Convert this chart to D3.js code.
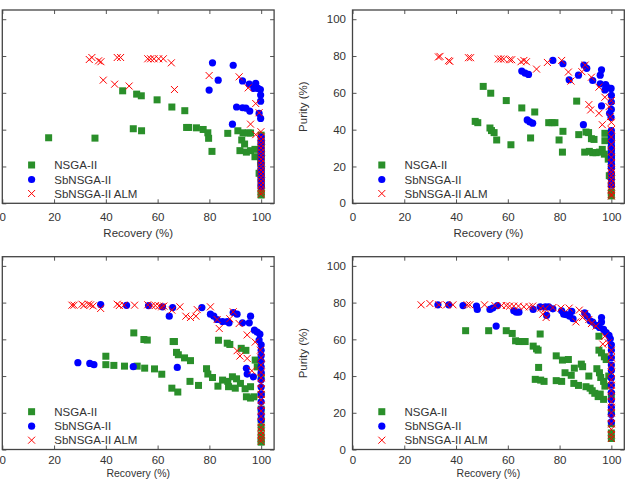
<!DOCTYPE html>
<html><head><meta charset="utf-8">
<script src="https://cdn.jsdelivr.net/npm/d3@7"></script>
<style>
html,body{margin:0;padding:0;background:#fff;}
svg{display:block;font-family:"Liberation Sans",Arial,sans-serif;}
</style></head>
<body>
<svg id="chart" width="631" height="479"></svg>
<script>
const xTicks = [0, 20, 40, 60, 80, 100];
const yTicks = [0, 20, 40, 60, 80, 100];
const seriesNames = ["NSGA-II", "SbNSGA-II", "SbNSGA-II ALM"];
const xTitle = "Recovery (%)";
const yTitle = "Purity (%)";

const p1Nsga = [[17.9,35.6],[35.8,35.4],[46.5,61.1],[51.9,59.3],[53.7,58.4],[59.8,56.2],[65.5,52.3],[70.5,50.3],[50.6,40.5],[53.8,39.4],[71.2,41.2],[72,41.2],[75,41],[77.6,40.1],[79.4,38.3],[79.7,35.3],[81,28.2],[87.1,38],[91,39.4],[93,38.3],[95,38.2],[95.9,38.2],[92.5,34.4],[93.6,32.2],[91.8,28.6],[94.3,27.8],[95.9,28.6],[97.6,29.3],[97.6,25.3],[99.2,16.3],[99.8,22],[100,37],[100,33],[100,30],[100,27],[100,24],[100,20],[100,17],[100,14],[100,11],[100,8],[100,5.4],[100,4.5]];
const p1Sb = [[81.2,76.3],[89.2,75],[83.4,66.9],[79.9,61.5],[92.8,66.5],[95.4,64.7],[97.9,65.1],[97.2,62.4],[98.8,62.4],[99.7,61.8],[99.8,58.8],[99.8,55.5],[90.5,52.3],[92.8,51.9],[94.1,51.7],[95.6,50.1],[99.2,48.8],[99.8,46.1],[88.9,43],[100,36],[100,34],[100,32.5],[100,30],[100,28],[100,26],[100,24],[100,21.5],[100,19],[100,17],[100,15],[100,13],[100,11],[100,9]];
const p1Alm = [[33.6,78.1],[34.6,79.2],[37.2,77.4],[38.1,76.9],[44.4,79.2],[45.7,79.2],[56.2,78.5],[57.3,78.5],[58.6,78.5],[60.4,78.5],[62.2,78.5],[65.3,76.3],[39,66.9],[43.4,64.7],[49,63.7],[66.5,61.8],[79.9,69.4],[91.5,68.7],[95,62.7],[97.9,54.2],[99.2,49.2],[95.9,43],[97.9,37.3],[99.9,38.9],[100,36],[100,34],[100,32],[100,30],[100,28],[100,26],[100,24],[100,22],[100,20],[100,18],[100,16],[100,14],[100,12],[100,10],[100,8],[100,6.5],[100,5]];

const p2Nsga = [[50.5,63.5],[53.4,59.8],[59.4,55.8],[65.4,51.8],[70.4,49.6],[47.4,44.5],[48.4,43.8],[53.1,40.9],[53.7,39.5],[54.7,38.4],[55.7,34.4],[61.2,31.8],[68.8,35.5],[75.8,43.8],[77.1,43.8],[78.2,43.8],[79.8,34.4],[81.3,39.1],[81.1,27.8],[86.6,55.5],[87.4,37.3],[89.7,27.8],[91.5,28.2],[92.8,27.5],[94.1,27.5],[95.4,27.8],[96.5,29.3],[97.3,26.7],[90.2,38.7],[91.2,38.4],[92.3,35.1],[93.3,34.7],[97.5,38],[97.5,34],[98.8,24],[99.2,15],[100,36],[100,30],[100,25],[100,20],[100,15],[100,10],[100,6],[100,4]];
const p2Sb = [[65.4,71.8],[66.7,70.7],[68,70],[77.4,77.6],[81.3,75.8],[89.4,75.1],[90.5,73.3],[83.7,67.1],[87.3,69.6],[92.8,66.7],[96.2,72.5],[95.7,69.6],[95.7,64.9],[97.8,64.5],[98.8,62.7],[99.9,62.4],[100,58.7],[97.5,61.6],[96.2,52.9],[67.5,45.3],[68.5,44.2],[69.6,43.5],[89.2,42.7],[99.3,48.9],[99.9,46.7],[100,55],[100,51],[100,39.5],[100,37],[100,35],[100,33],[100,31],[100,29],[100,27],[100,25],[100,23],[100,21],[100,19],[100,16],[100,13],[100,10]];
const p2Alm = [[33.2,79.5],[33.8,79.8],[37.1,77.5],[37.6,77.1],[44.8,79.1],[45.6,79.1],[56.3,78.4],[57.3,78.4],[58.4,78.4],[60.7,78],[61.5,78],[65.1,76.9],[66.2,77.6],[67.2,76.9],[71.1,72.9],[75.3,76.5],[80.8,77.6],[83.4,71.3],[84.4,66.4],[88.6,71.5],[89.9,75.1],[92.3,68.5],[95.2,63.1],[97.5,57.6],[100,55.8],[91.3,53.6],[92,50.7],[95.2,48.9],[96.5,42.7],[99.1,52.5],[99.6,47],[100,44],[100,40],[100,36],[100,32],[100,28],[100,25],[100,22],[100,19],[100,17],[100,15],[100,13],[100,11],[100,9],[100,7],[100,5],[100,4]];

const p3Nsga = [[50.8,63.5],[54.7,59.9],[56,59.6],[66,58.8],[66.5,58.8],[67.3,52.9],[68,51.6],[70.4,49.9],[72.7,48.4],[83.5,59.5],[86.9,57.9],[87.9,57.2],[92.3,55.1],[94.1,54],[97.7,48.7],[40,50.8],[40,46.2],[43.1,45.8],[47.2,45.4],[52.1,45.4],[55,44.3],[58.8,43.9],[61.6,41],[65.5,33.4],[67.8,31.3],[72.5,37.1],[75.8,34.9],[78.9,44],[79.4,41.1],[81.2,39.2],[85.1,37.8],[87.1,37.1],[88.9,39.6],[90.5,38.5],[83.3,34.5],[87.4,34.2],[90,33.4],[92,36],[93.8,33.1],[95.9,34.2],[94.3,28.7],[95.9,28],[97.2,28.7],[98.5,45],[100,40],[100,30],[100,22],[100,16],[100,12],[100,8],[100,5],[100,4]];
const p3Sb = [[38,78.9],[48,78.5],[56.5,78.4],[61.9,77.7],[65.8,77.3],[64.5,72.6],[77.1,77.3],[80.4,73.7],[81.7,72.6],[83,70.8],[85.1,69.7],[86.9,69.7],[87.6,69],[89.2,74.6],[90.7,73.7],[92.8,69],[95.4,69],[95.9,72.6],[97.4,65],[98.5,63.9],[99.5,62.8],[99.2,59.6],[29.2,47.3],[33.8,46.9],[35.4,46.2],[50.6,45.1],[67.6,44.7],[94.3,44.2],[94.6,41.1],[97,39.6],[100,57],[100,54],[100,51],[100,48],[100,45],[100,42],[100,38],[100,34],[100,30],[100,26],[100,22],[100,19],[100,16]];
const p3Alm = [[26.9,78.6],[27.7,78.6],[30.8,79.1],[31.5,78.4],[33.3,79.1],[34.1,78.8],[35.1,78.2],[38,76.8],[44.4,79.1],[45.2,78.4],[47,78.6],[51.1,78.6],[56.2,78.8],[57.8,78.4],[59.1,78.4],[60.6,78.1],[61.6,77.7],[62.4,78.1],[65.5,75.9],[68.6,77.7],[70.9,72.6],[72.7,71.9],[74.8,72.6],[75.3,76.2],[80.4,77.7],[83,70.8],[83.8,65.9],[87.9,71.2],[89.2,75],[91.5,68.6],[90.7,53.8],[91.8,50.9],[94.6,62.4],[94.6,49.6],[96.4,42.9],[97.7,58.5],[99.7,54.1],[100,50],[100,46],[100,42],[100,39],[100,36],[100,33],[100,30],[100,27],[100,24],[100,21],[100,18],[100,15],[100,12],[100,10],[100,8],[100,6],[100,4.5]];

const p4Nsga = [[43.7,64.7],[52.6,64.7],[59.4,64.7],[61.7,63.2],[63,59.2],[64.3,58.8],[65.9,58.8],[66.7,58.8],[69.8,56.3],[71.1,54.8],[71.7,54.1],[72.5,62.9],[71.9,44.7],[70.6,38.2],[72.7,37.8],[74,37.1],[78.7,37.5],[80.8,37.1],[78.7,51],[81.1,48.7],[83.4,49],[82.1,41.8],[84.5,40.4],[85.5,36],[87.3,34.9],[85.7,44.3],[88.4,46.5],[88.9,45.1],[91.3,40],[90.2,34.2],[91.8,33.4],[92.6,32],[93.6,30.6],[94.9,28.8],[94.4,44],[95.4,41.8],[95.9,39.2],[97,37.1],[97.5,34.5],[95.7,30.2],[97,27.3],[95.2,61.7],[95.2,54.1],[96.2,52.6],[97.3,50.5],[98,49],[99,40],[100,30],[100,20],[100,14],[100,9],[100,6]];
const p4Sb = [[33,78.8],[37.2,78.8],[42.7,78.4],[47.9,78.1],[48.2,76.3],[53.1,76.3],[54.2,77],[56,78.4],[55.5,67.2],[62.3,75.5],[63.3,74.8],[64.3,74.8],[69.8,76.3],[72.5,77.7],[74.5,77.7],[75.8,77.7],[77.4,76.6],[75,73],[80.8,75.5],[81.6,73.7],[82.6,73.4],[83.9,72.6],[85.2,71.2],[84.7,75.2],[89.7,74.4],[90.7,72.6],[91.8,70.1],[92.8,69.4],[94.1,67.6],[95.4,66.5],[96.2,69.4],[96.2,71.9],[97,65.4],[98,63.6],[99.1,62.1],[99.6,60.3],[100,57],[100,54],[100,50],[100,46],[100,43],[100,39],[100,35],[100,31],[100,27],[100,23],[100,19],[100,15]];
const p4Alm = [[26.5,78.8],[29.9,79.5],[33.3,78.8],[36.4,78.8],[38.8,78.8],[44.3,78.8],[45.3,78.8],[51,78.8],[55,78.4],[57.6,78.4],[59.4,78.4],[60.7,78.1],[62.3,78.1],[64.1,78.1],[66.2,77.7],[68.3,77.7],[69.6,78.1],[72.7,77],[74.5,76.6],[77.4,77.3],[80.5,77],[83.7,77],[87.6,75.9],[73.5,73.7],[74.8,71.9],[86.3,69.5],[88.9,71.9],[89.7,74],[91.3,70.8],[92.3,68.6],[94.1,67.2],[97.5,61.7],[98.8,58.1],[96.7,57.4],[100,54],[100,50],[100,46],[100,42],[100,38],[100,35],[100,32],[100,29],[100,26],[100,23],[100,20],[100,17],[100,14],[100,11],[100,8],[100,6]];

const panelData = [
  [p1Nsga, p1Sb, p1Alm],
  [p2Nsga, p2Sb, p2Alm],
  [p3Nsga, p3Sb, p3Alm],
  [p4Nsga, p4Sb, p4Alm]
];

// layout (left column is cropped at the page edge, so its y labels are off-page)
const panelLeft = [2.3, 352.5, 2.3, 352.5];
const panelTop = [10, 10, 256.7, 256.7];
const panelBottom = [203.3, 203.3, 449.5, 449.5];
const xTitleGap = [33.2, 33.2, 27.1, 27.1];
const xTitleSize = ["11.5px", "11.5px", "10.5px", "10.5px"];
const xTickPad = [9.2, 9.2, 6.3, 6.3];
const showYLabels = [false, true, false, true];
const panelW = 271.8;
const colors = ["#2a8f2a", "#0000ff", "#ff0000"];
const textColor = "#333";
const fs = "11.5px";

const svg = d3.select("#chart");

panelData.forEach((series, i) => {
  const x0 = panelLeft[i], top = panelTop[i], bot = panelBottom[i];
  const x = d3.scaleLinear().domain([0, 105]).range([x0, x0 + panelW]);
  const y = d3.scaleLinear().domain([0, 105]).range([bot, top]);
  const g = svg.append("g");

  const ax = g.append("g").attr("transform", `translate(0,${bot})`)
    .call(d3.axisBottom(x).tickValues(xTicks).tickSizeInner(-4).tickSizeOuter(0).tickPadding(xTickPad[i]));
  const yAxis = d3.axisLeft(y).tickValues(yTicks).tickSizeInner(-4).tickSizeOuter(0).tickPadding(6.5);
  if (!showYLabels[i]) yAxis.tickFormat("");
  const ay = g.append("g").attr("transform", `translate(${x0},0)`).call(yAxis);
  const at = g.append("g").attr("transform", `translate(0,${top})`)
    .call(d3.axisTop(x).tickValues(xTicks).tickSizeInner(-4).tickSizeOuter(0).tickFormat(""));
  const ar = g.append("g").attr("transform", `translate(${x0 + panelW},0)`)
    .call(d3.axisRight(y).tickValues(yTicks).tickSizeInner(-4).tickSizeOuter(0).tickFormat(""));
  [ax, ay, at, ar].forEach(a => {
    a.select(".domain").remove();
    a.selectAll(".tick line").attr("stroke", "#555").attr("stroke-width", 1);
    a.selectAll(".tick text").attr("fill", textColor).style("font-size", fs)
      .style("font-family", '"Liberation Sans", Arial, sans-serif');
  });

  g.append("rect").attr("x", x0).attr("y", top).attr("width", panelW).attr("height", bot - top)
    .attr("fill", "none").attr("stroke", "#444").attr("stroke-width", 1.3);

  g.append("text").attr("x", x0 + panelW / 2).attr("y", bot + xTitleGap[i])
    .attr("text-anchor", "middle").attr("fill", textColor).style("font-size", xTitleSize[i]).text(xTitle);
  if (showYLabels[i]) {
    g.append("text").attr("transform", `translate(${x0 - 49.5},${(top + bot) / 2}) rotate(-90)`)
      .attr("text-anchor", "middle").attr("dy", "0.35em").attr("fill", textColor).style("font-size", fs).text(yTitle);
  }

  const gp = g.append("g");
  gp.selectAll("rect.sq").data(series[0]).join("rect").attr("class", "sq")
    .attr("x", d => x(d[0]) - 3.5).attr("y", d => y(d[1]) - 3.5)
    .attr("width", 7).attr("height", 7).attr("fill", colors[0]);
  gp.selectAll("circle.ci").data(series[1]).join("circle").attr("class", "ci")
    .attr("cx", d => x(d[0])).attr("cy", d => y(d[1])).attr("r", 3.6).attr("fill", colors[1]);
  const s = 3.5;
  gp.selectAll("path.xx").data(series[2]).join("path").attr("class", "xx")
    .attr("d", d => { const cx = x(d[0]), cy = y(d[1]);
      return `M${cx - s},${cy - s}L${cx + s},${cy + s}M${cx - s},${cy + s}L${cx + s},${cy - s}`; })
    .attr("stroke", colors[2]).attr("stroke-width", 1).attr("fill", "none");

  const legY = [top + 155, top + 169.5, top + 183.5];
  const lx = x0 + 29.3, tx = x0 + 52;
  g.append("rect").attr("x", lx - 3.5).attr("y", legY[0] - 3.5).attr("width", 7).attr("height", 7).attr("fill", colors[0]);
  g.append("circle").attr("cx", lx).attr("cy", legY[1]).attr("r", 3.6).attr("fill", colors[1]);
  g.append("path").attr("d", `M${lx - s},${legY[2] - s}L${lx + s},${legY[2] + s}M${lx - s},${legY[2] + s}L${lx + s},${legY[2] - s}`)
    .attr("stroke", colors[2]).attr("stroke-width", 1);
  seriesNames.forEach((n, k) => {
    g.append("text").attr("x", tx).attr("y", legY[k]).attr("dy", "0.35em")
      .attr("fill", textColor).style("font-size", fs).text(n);
  });
});
</script>
</body></html>
